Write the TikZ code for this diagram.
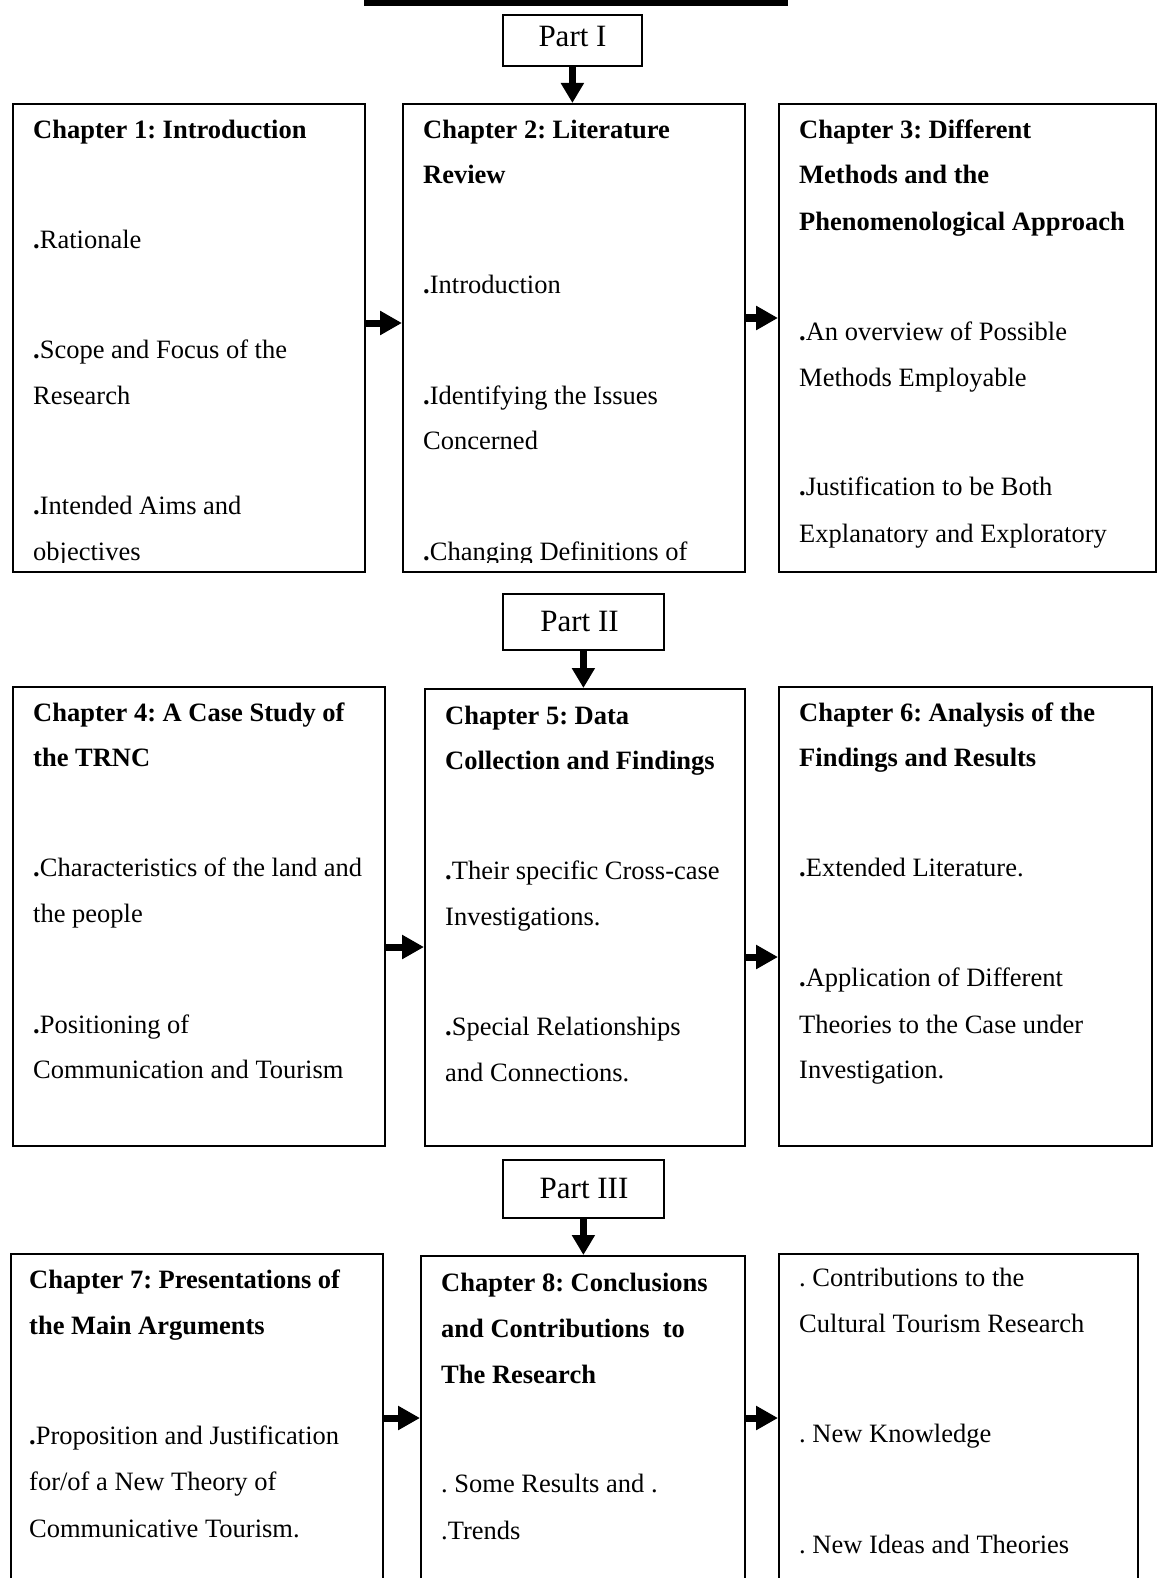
\documentclass[tikz,border=0pt]{standalone}
\usepackage{fontspec}
\setmainfont{Liberation Serif}
\usetikzlibrary{arrows.meta}
\frenchspacing
\tikzset{
 box/.style={draw, line width=1.8pt, inner sep=0pt, anchor=north west},
 txt/.style={anchor=base west, inner sep=0pt, font=\fontsize{26.5}{30}\selectfont},
 hd/.style={anchor=base west, inner sep=0pt, font=\fontsize{26.5}{30}\selectfont\bfseries},
 parttxt/.style={anchor=base, inner sep=0pt, font=\fontsize{31}{36}\selectfont},
 harr/.style={line width=7pt, -{Triangle[length=22pt,width=23pt]}},
 varr/.style={line width=7pt, -{Triangle[length=20pt,width=22pt]}},
}
\newcommand{\bd}{{\bfseries .}}
\begin{document}
\begin{tikzpicture}[x=1pt,y=-1pt]
\useasboundingbox (0,0) rectangle (1158,1578);
\clip (0,0) rectangle (1158,1578);
\fill (364,0) rectangle (788,6);
% part boxes
\node[box, minimum width=139pt, minimum height=51pt] (p1) at (502,14) {};
\node[box, minimum width=161pt, minimum height=56pt] (p2) at (502,593) {};
\node[box, minimum width=161pt, minimum height=58pt] (p3) at (502,1159) {};
\node[parttxt] (p1t) at (572.5,47) {Part I};
\node[parttxt] (p2t) at (579.5,631) {Part II};
\node[parttxt] (p3t) at (584,1198) {Part III};
% row 1
\node[box, minimum width=352pt, minimum height=468pt] (b1) at (12,103) {};
\node[box, minimum width=342pt, minimum height=468pt] (b2) at (402,103) {};
\node[box, minimum width=377pt, minimum height=468pt] (b3) at (778,103) {};
% row 2
\node[box, minimum width=372pt, minimum height=459pt] (b4) at (12,686) {};
\node[box, minimum width=320pt, minimum height=457pt] (b5) at (424,688) {};
\node[box, minimum width=373pt, minimum height=459pt] (b6) at (778,686) {};
% row 3
\node[box, minimum width=372pt, minimum height=360pt] (b7) at (10,1253) {};
\node[box, minimum width=324pt, minimum height=360pt] (b8) at (420,1255) {};
\node[box, minimum width=359pt, minimum height=360pt] (b9) at (778,1253) {};
% arrows
\draw[varr] (p1.south) -- (p1.south |- b2.north);
\draw[varr] (p2.south) -- (p2.south |- b5.north);
\draw[varr] (p3.south) -- (p3.south |- b8.north);
\coordinate (h12) at (0,323);
\coordinate (h23) at (0,318);
\coordinate (h45) at (0,947);
\coordinate (h56) at (0,957);
\coordinate (h78) at (0,1418);
\draw[harr] (b1.east |- h12) -- (b2.west |- h12);
\draw[harr] (b2.east |- h23) -- (b3.west |- h23);
\draw[harr] (b4.east |- h45) -- (b5.west |- h45);
\draw[harr] (b5.east |- h56) -- (b6.west |- h56);
\draw[harr] (b7.east |- h78) -- (b8.west |- h78);
\draw[harr] (b8.east |- h78) -- (b9.west |- h78);
% row 1 texts
\begin{scope}
\clip (0,0) rectangle (1158,562);
\node[hd] (t1a) at (33,139) {Chapter 1: Introduction};
\node[txt] (t1b) at (33,248.4) {\bd Rationale};
\node[txt] (t1c) at (33,358.1) {\bd Scope and Focus of the};
\node[txt] (t1d) at (33,404.4) {Research};
\node[txt] (t1e) at (33,514) {\bd Intended Aims and};
\node[txt] (t1f) at (33,560.3) {objectives};
\node[hd] (t2a) at (423,139) {Chapter 2: Literature};
\node[hd] (t2b) at (423,184) {Review};
\node[txt] (t2c) at (423,293.7) {\bd Introduction};
\node[txt] (t2d) at (423,404.4) {\bd Identifying the Issues};
\node[txt] (t2e) at (423,449.6) {Concerned};
\node[txt] (t2f) at (423,560.3) {\bd Changing Definitions of};
\node[hd] (t3a) at (799,139) {Chapter 3: Different};
\node[hd] (t3b) at (799,184) {Methods and the};
\node[hd] (t3c) at (799,230.3) {Phenomenological Approach};
\node[txt] (t3d) at (799,340) {\bd An overview of Possible};
\node[txt] (t3e) at (799,386.3) {Methods Employable};
\node[txt] (t3f) at (799,495.9) {\bd Justification to be Both};
\node[txt] (t3g) at (799,542.2) {Explanatory and Exploratory};
\end{scope}
% row 2 texts
\node[hd] (t4a) at (33,721.2) {Chapter 4: A Case Study of};
\node[hd] (t4b) at (33,766.5) {the TRNC};
\node[txt] (t4c) at (33,876.2) {\bd Characteristics of the land and};
\node[txt] (t4d) at (33,922.4) {the people};
\node[txt] (t4e) at (33,1033.1) {\bd Positioning of};
\node[txt] (t4f) at (33,1078.4) {Communication and Tourism};
\node[hd] (t5a) at (445,724.3) {Chapter 5: Data};
\node[hd] (t5b) at (445,769.5) {Collection and Findings};
\node[txt] (t5c) at (445,879.2) {\bd Their specific Cross-case};
\node[txt] (t5d) at (445,925.5) {Investigations.};
\node[txt] (t5e) at (445,1035.1) {\bd Special Relationships};
\node[txt] (t5f) at (445,1081.4) {and Connections.};
\node[hd] (t6a) at (799,721.2) {Chapter 6: Analysis of the};
\node[hd] (t6b) at (799,766.5) {Findings and Results};
\node[txt] (t6c) at (799,876.2) {\bd Extended Literature.};
\node[txt] (t6d) at (799,986.8) {\bd Application of Different};
\node[txt] (t6e) at (799,1033.1) {Theories to the Case under};
\node[txt] (t6f) at (799,1078.4) {Investigation.};
% row 3 texts
\node[hd] (t7a) at (29,1288.6) {Chapter 7: Presentations of};
\node[hd] (t7b) at (29,1334.9) {the Main Arguments};
\node[txt] (t7c) at (29,1444.6) {\bd Proposition and Justification};
\node[txt] (t7d) at (29,1490.8) {for/of a New Theory of};
\node[txt] (t7e) at (29,1537.1) {Communicative Tourism.};
\node[hd] (t8a) at (441,1291.7) {Chapter 8: Conclusions};
\node[hd] (t8b) at (441,1337.9) {and Contributions\ \ to};
\node[hd] (t8c) at (441,1383.2) {The Research};
\node[txt] (t8d) at (441,1492.9) {. Some Results and .};
\node[txt] (t8e) at (441,1539.1) {.Trends};
\node[txt] (t9a) at (799,1286.6) {. Contributions to the};
\node[txt] (t9b) at (799,1332.9) {Cultural Tourism Research};
\node[txt] (t9c) at (799,1442.5) {. New Knowledge};
\node[txt] (t9d) at (799,1553.2) {. New Ideas and Theories};
\end{tikzpicture}
\end{document}
